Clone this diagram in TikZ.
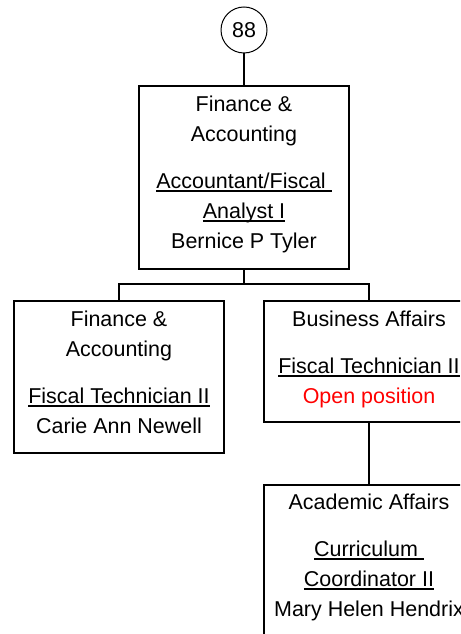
\documentclass[tikz,border=0pt]{standalone}
\usepackage{fontspec}
\setmainfont{Liberation Sans}
\newcommand{\titleline}[1]{\setbox0\hbox{#1}\rlap{\rule[-3pt]{\wd0}{1.5pt}}\box0}

\begin{document}
\begin{tikzpicture}[x=0.75pt,y=-0.75pt,
    unitbox/.style={draw,line width=1.5pt,minimum width=157.5pt,anchor=north,inner sep=0pt},
    boxtext/.style={anchor=north,align=center,inner sep=0pt,font=\fontsize{16.1}{22.5}\selectfont},
    link/.style={line width=1.5pt}]
  \useasboundingbox (0,0) rectangle (460,634);
  \clip (0,0) rectangle (460,634);

  \node[circle,draw,line width=0.75pt,minimum size=34.5pt,inner sep=0pt,
        font=\fontsize{16.1}{18}\selectfont] (page) at (244,30) {88};

  % boxes
  \node[unitbox,minimum height=137.25pt] (acct) at (244,85) {};
  \node[unitbox,minimum height=114pt] (tech1) at (119,300) {};
  \node[unitbox,minimum height=90.75pt] (tech2) at (369,300) {};
  \node[unitbox,minimum height=150pt] (coord) at (369,484) {};

  % texts
  \node[boxtext] (acct-text) at (244,90)
    {\strut Finance \&\\Accounting\\[12.75pt]\titleline{Accountant/Fiscal\ }\\\titleline{Analyst I}\\Bernice P Tyler};
  \node[boxtext] (tech1-text) at (119,305)
    {\strut Finance \&\\Accounting\\[12.75pt]\titleline{Fiscal Technician II}\\Carie Ann Newell};
  \node[boxtext] (tech2-text) at (369,305)
    {\strut Business Affairs\\[12.75pt]\titleline{Fiscal Technician II}\\\textcolor{red}{Open position}};
  \node[boxtext] (coord-text) at (369,488)
    {\strut Academic Affairs\\[12.75pt]\titleline{Curriculum\ }\\\titleline{Coordinator II}\\Mary Helen Hendrix};

  % lines
  \coordinate (fork) at (244,284);
  \draw[link] (page.south) -- (acct.north);
  \draw[link] (acct.south) -- (fork);
  \draw[link] (tech1.north) |- (fork) -| (tech2.north);
  \draw[link] (tech2.south) -- (coord.north);
\end{tikzpicture}
\end{document}
